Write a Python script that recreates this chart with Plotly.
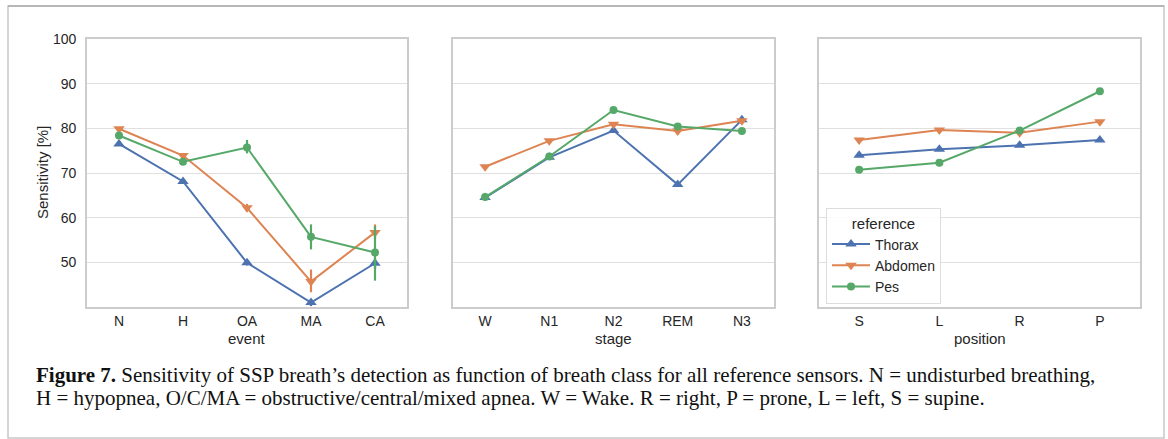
import plotly.graph_objects as go

W, H = 1168, 439

# ---------------- data ----------------
event_cats = ["N", "H", "OA", "MA", "CA"]
stage_cats = ["W", "N1", "N2", "REM", "N3"]
position_cats = ["S", "L", "R", "P"]
series_names = ["Thorax", "Abdomen", "Pes"]

event_thorax = [76.5, 68.1, 49.9, 41.0, 49.8]
event_abdomen = [79.9, 73.9, 62.2, 45.7, 56.7]
event_pes = [78.4, 72.5, 75.7, 55.7, 52.2]

# confidence interval bounds (panel 1)
event_thorax_lo = [76.2, 67.7, 49.3, 40.2, 48.5]
event_thorax_hi = [76.8, 68.5, 50.5, 41.8, 51.0]
event_abdomen_lo = [79.6, 73.5, 61.3, 43.3, 55.2]
event_abdomen_hi = [80.2, 74.3, 63.1, 48.4, 58.5]
event_pes_lo = [78.1, 71.9, 74.4, 52.9, 45.9]
event_pes_hi = [78.7, 73.1, 77.4, 58.5, 58.1]

stage_thorax = [64.5, 73.5, 79.5, 67.4, 81.9]
stage_abdomen = [71.4, 77.2, 80.9, 79.4, 81.7]
stage_pes = [64.6, 73.7, 84.1, 80.4, 79.4]

position_thorax = [74.0, 75.3, 76.2, 77.4]
position_abdomen = [77.4, 79.6, 79.0, 81.5]
position_pes = [70.7, 72.3, 79.5, 88.3]

y_ticks = [50, 60, 70, 80, 90, 100]
y_title = "Sensitivity [%]"
x_titles = ["event", "stage", "position"]
caption_line1 = ("<b>Figure 7.</b> Sensitivity of SSP breath’s detection as function of breath class for all "
                 "reference sensors. N = undisturbed breathing,")
caption_line2 = ("H = hypopnea, O/C/MA = obstructive/central/mixed apnea. W = Wake. "
                 "R = right, P = prone, L = left, S = supine.")

# ---------------- style ----------------
colors = {"Thorax": "#4C72B0", "Abdomen": "#DD8452", "Pes": "#55A868"}
symbols = {"Thorax": "triangle-up", "Abdomen": "triangle-down", "Pes": "circle"}
msize = {"Thorax": 10, "Abdomen": 10, "Pes": 8}
TXT = "#262626"
SANS = "Liberation Sans, Arial, sans-serif"
SERIF = "Liberation Serif, Times New Roman, serif"

fig = go.Figure()

def px_x(p):
    return p / W

def px_y(p):
    return 1 - p / H

domains = [(px_x(87), px_x(407)), (px_x(453), px_x(774)), (px_x(819), px_x(1140))]
ydom = (px_y(307), px_y(39))

panels = [
    (event_cats, {"Thorax": event_thorax, "Abdomen": event_abdomen, "Pes": event_pes},
     {"Thorax": (event_thorax_lo, event_thorax_hi), "Abdomen": (event_abdomen_lo, event_abdomen_hi),
      "Pes": (event_pes_lo, event_pes_hi)}),
    (stage_cats, {"Thorax": stage_thorax, "Abdomen": stage_abdomen, "Pes": stage_pes}, None),
    (position_cats, {"Thorax": position_thorax, "Abdomen": position_abdomen, "Pes": position_pes}, None),
]

for i, (cats, data, ci) in enumerate(panels):
    ax = "" if i == 0 else str(i + 1)
    for name in series_names:
        vals = data[name]
        err = None
        if ci is not None:
            lo, hi = ci[name]
            err = dict(type="data", symmetric=False,
                       array=[h - v for h, v in zip(hi, vals)],
                       arrayminus=[v - l for v, l in zip(vals, lo)],
                       color=colors[name], thickness=2.2, width=0)
        fig.add_trace(go.Scatter(
            x=cats, y=vals, mode="lines+markers", name=name,
            line=dict(color=colors[name], width=2),
            marker=dict(symbol=symbols[name], size=msize[name], color=colors[name]),
            error_y=err, showlegend=(i == 2),
            xaxis="x" + ax, yaxis="y" + ax,
        ))
    xa = dict(domain=domains[i], type="category", categoryorder="array", categoryarray=cats,
              range=[-0.5, len(cats) - 0.5], showgrid=False, zeroline=False, automargin=False,
              showline=True, mirror=True, linecolor="#cccccc", linewidth=1.6,
              ticks="", tickfont=dict(family=SANS, size=14, color=TXT),
              anchor="y" + ax)
    ya = dict(domain=ydom, range=[40, 100], tickvals=y_ticks, showgrid=True, gridcolor="#e0e0e0",
              gridwidth=1, zeroline=False, showline=True, mirror=True, linecolor="#cccccc",
              linewidth=1.6, anchor="x" + ax, automargin=False,
              ticks="outside", ticklen=6, tickcolor="rgba(0,0,0,0)",
              tickfont=dict(family=SANS, size=14, color=TXT),
              showticklabels=(i == 0))
    if i > 0:
        ya["matches"] = "y"
    fig.update_layout(**{"xaxis" + ax: xa, "yaxis" + ax: ya})
    # x-axis title
    fig.add_annotation(text=x_titles[i], xref="paper", yref="paper",
                       x=(domains[i][0] + domains[i][1]) / 2, y=px_y(338),
                       xanchor="center", yanchor="middle", showarrow=False,
                       font=dict(family=SANS, size=15, color=TXT))

# y-axis title
fig.add_annotation(text=y_title, xref="paper", yref="paper", x=px_x(43), y=(ydom[0] + ydom[1]) / 2,
                   xanchor="center", yanchor="middle", textangle=-90, showarrow=False,
                   font=dict(family=SANS, size=15, color=TXT))

# outer frame
fig.add_shape(type="rect", xref="paper", yref="paper",
              x0=px_x(8), x1=px_x(1164), y0=px_y(438), y1=px_y(6),
              line=dict(color="#c8c8c8", width=1.5), layer="below")
fig.add_shape(type="line", xref="paper", yref="paper",
              x0=px_x(8), x1=px_x(1164), y0=px_y(6), y1=px_y(6),
              line=dict(color="#999999", width=1.2))

for txt, yc in [(caption_line1, 375), (caption_line2, 398)]:
    fig.add_annotation(text=txt, xref="paper", yref="paper", x=px_x(34), y=px_y(yc),
                       xanchor="left", yanchor="middle", align="left", showarrow=False,
                       font=dict(family=SERIF, size=21, color="#111111"))

fig.update_layout(
    width=W, height=H, margin=dict(l=0, r=0, t=0, b=0, pad=0, autoexpand=False),
    paper_bgcolor="white", plot_bgcolor="white",
    legend=dict(title=dict(text="reference", font=dict(family=SANS, size=15, color=TXT), side="top center"),
                x=px_x(826), y=px_y(208), xanchor="left", yanchor="top",
                bgcolor="rgba(255,255,255,0.85)", bordercolor="#dddddd", borderwidth=1,
                itemwidth=38,
                font=dict(family=SANS, size=14, color=TXT), tracegroupgap=0),
)

fig.write_html("out.html")
